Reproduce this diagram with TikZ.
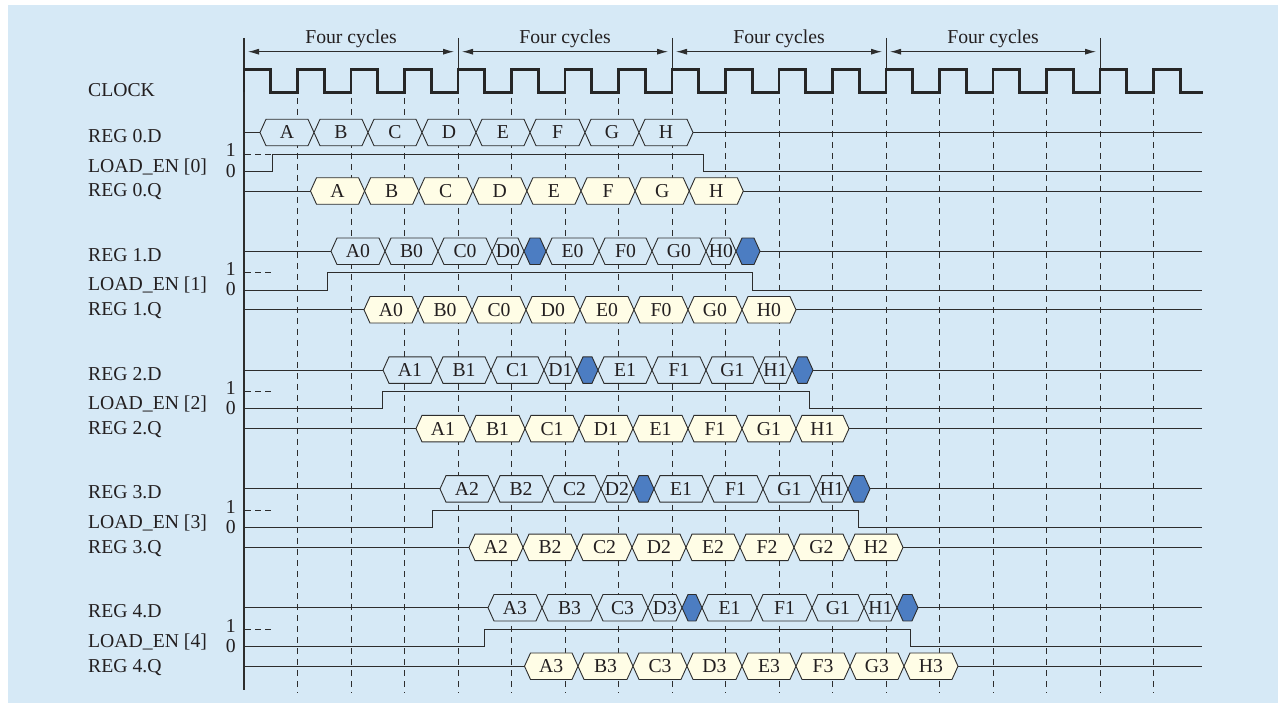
\documentclass[tikz,border=0pt]{standalone}
\usepackage{fontspec}
\setmainfont{Liberation Serif}
\usetikzlibrary{arrows.meta}
\definecolor{bgblue}{RGB}{214,233,246}
\definecolor{qyellow}{RGB}{255,253,230}
\definecolor{hexblue}{RGB}{76,125,194}
\definecolor{ink}{RGB}{45,45,45}
\definecolor{txt}{RGB}{35,31,32}
\newcounter{tdn}
\newcommand\tdhex[5]{%
  \stepcounter{tdn}%
  \draw[hexline,#4] (#1,#3) -- ({#1+6},{#3-13.25}) -- ({#2-6},{#3-13.25}) -- (#2,#3) -- ({#2-6},{#3+13.25}) -- ({#1+6},{#3+13.25}) -- cycle;
  \node[boxtext] (hx\arabic{tdn}) at ({(#1+#2)/2},{#3+6.5}) {#5};%
}
\newcommand\tdblue[3]{%
  \draw[hexline,fill=hexblue] (#1,#3) -- ({#1+6},{#3-13.25}) -- ({#2-6},{#3-13.25}) -- (#2,#3) -- ({#2-6},{#3+13.25}) -- ({#1+6},{#3+13.25}) -- cycle;%
}
\tikzset{
  sig/.style={draw=ink,line width=0.9pt},
  hexline/.style={draw=ink,line width=0.9pt},
  dbox/.style={fill=bgblue},
  qbox/.style={fill=qyellow},
  grid/.style={draw=ink,line width=0.9pt,dash pattern=on 6pt off 5pt},
  clk/.style={draw=black!85,line width=2.6pt},
  boxtext/.style={anchor=base,inner sep=0pt,text=txt,font=\fontsize{19.7pt}{22pt}\selectfont},
  lbl/.style={anchor=base west,inner sep=0pt,text=txt,font=\fontsize{19.7pt}{22pt}\selectfont},
  lvl/.style={anchor=base east,inner sep=0pt,text=txt,font=\fontsize{19.7pt}{22pt}\selectfont},
}
\begin{document}
\begin{tikzpicture}[x=1pt,y=-1pt]
\useasboundingbox (0,0) rectangle (1286,708);
\fill[white] (0,0) rectangle (1286,708);
\fill[bgblue] (8,5) rectangle (1278,703);

% four cycles
\foreach \k in {0,1,2,3} {
  \pgfmathsetmacro\xa{244+214*\k}
  \pgfmathsetmacro\xb{458+214*\k}
  \draw[ink,line width=0.9pt,{Latex[length=11pt,width=6pt]}-{Latex[length=11pt,width=6pt]}] ({\xa+4},51.7) -- ({\xb-4},51.7);
  \node[boxtext] (fc\k) at ({(\xa+\xb)/2},44) {Four cycles};
  \draw[sig] (\xb,38) -- (\xb,69.3);
}
\draw[draw=ink,line width=1.2pt] (244,38) -- (244,690);

% clock
\node[lbl] (clock) at (88,96.7) {CLOCK};
\draw[clk] (244,92.3) \foreach \i in {0,...,16} { -- ({244+53.5*\i},69.3) -- ({270.75+53.5*\i},69.3) -- ({270.75+53.5*\i},92.3) -- ({297.5+53.5*\i},92.3) } -- (1153.5,69.3) -- (1180.25,69.3) -- (1180.25,92.3) -- (1203,92.3);

% dashed grid
\foreach \i in {0,...,16} \draw[grid] ({297.5+53.5*\i},98) -- ({297.5+53.5*\i},693);

% ===== block 0 =====
\def\D{132.5}\def\H{154}\def\L{171.2}\def\Q{191}
\node[lbl] (r0d) at (88,{\D+10}) {REG 0.D};
\node[lbl] (le0) at (88,{\L+1}) {LOAD\_EN [0]};
\node[lbl] (r0q) at (88,{\Q+6}) {REG 0.Q};
\node[lvl] (one0) at (236,{\H+3}) {1};
\node[lvl] (zero0) at (236,{\L+6}) {0};
\draw[sig,dash pattern=on 6pt off 4pt] (245,\H) -- (272,\H);
\draw[sig] (244,\L) -- (272,\L) -- (272,\H) -- (703,\H) -- (703,\L) -- (1202,\L);
\draw[sig] (244,\D) -- (260,\D) (693,\D) -- (1202,\D);
\draw[sig] (244,\Q) -- (310.5,\Q) (743.3,\Q) -- (1202,\Q);
\foreach \a/\b/\t in {260/314/A,314/368/B,368/422/C,422/476/D,476/530/E,530/585/F,585/639/G,639/693/H} \tdhex{\a}{\b}{\D}{dbox}{\t};
\foreach \a/\b/\t in {310.5/364.6/A,364.6/418.7/B,418.7/472.8/C,472.8/526.9/D,526.9/581/E,581/635.1/F,635.1/689.2/G,689.2/743.3/H} \tdhex{\a}{\b}{\Q}{qbox}{\t};

% ===== block 1 =====
\def\D{251.3}\def\H{272.8}\def\L{290}\def\Q{309.8}
\node[lbl] (r1d) at (88,{\D+10}) {REG 1.D};
\node[lbl] (le1) at (88,{\L+1}) {LOAD\_EN [1]};
\node[lbl] (r1q) at (88,{\Q+6}) {REG 1.Q};
\node[lvl] (one1) at (236,{\H+3}) {1};
\node[lvl] (zero1) at (236,{\L+6}) {0};
\draw[sig,dash pattern=on 6pt off 4pt] (245,\H) -- (272,\H);
\draw[sig] (244,\L) -- (327.4,\L) -- (327.4,\H) -- (752.7,\H) -- (752.7,\L) -- (1202,\L);
\draw[sig] (244,\D) -- (331,\D) (760,\D) -- (1202,\D);
\draw[sig] (244,\Q) -- (364,\Q) (796,\Q) -- (1202,\Q);
\foreach \a/\b/\t in {331/385/A0,385/438/B0,438/492/C0,492/524/D0,546/599/E0,599/652/F0,652/706/G0,706/736/H0} \tdhex{\a}{\b}{\D}{dbox}{\t};
\tdblue{524}{546}{\D}\tdblue{736}{760}{\D}
\foreach \a/\b/\t in {364/418/A0,418/472/B0,472/526/C0,526/580/D0,580/634/E0,634/688/F0,688/742/G0,742/796/H0} \tdhex{\a}{\b}{\Q}{qbox}{\t};

% ===== block 2 =====
\def\D{370.1}\def\H{391.6}\def\L{408.8}\def\Q{428.6}
\node[lbl] (r2d) at (88,{\D+10}) {REG 2.D};
\node[lbl] (le2) at (88,{\L+1}) {LOAD\_EN [2]};
\node[lbl] (r2q) at (88,{\Q+6}) {REG 2.Q};
\node[lvl] (one2) at (236,{\H+3}) {1};
\node[lvl] (zero2) at (236,{\L+6}) {0};
\draw[sig,dash pattern=on 6pt off 4pt] (245,\H) -- (272,\H);
\draw[sig] (244,\L) -- (382.3,\L) -- (382.3,\H) -- (809,\H) -- (809,\L) -- (1202,\L);
\draw[sig] (244,\D) -- (383,\D) (813,\D) -- (1202,\D);
\draw[sig] (244,\Q) -- (416,\Q) (849,\Q) -- (1202,\Q);
\foreach \a/\b/\t in {383/437/A1,437/491/B1,491/544/C1,544/577/D1,598/652/E1,652/706/F1,706/759/G1,759/792/H1} \tdhex{\a}{\b}{\D}{dbox}{\t};
\tdblue{577}{598}{\D}\tdblue{792}{813}{\D}
\foreach \a/\b/\t in {416/470/A1,470/525/B1,525/579/C1,579/633/D1,633/688/E1,688/742/F1,742/796/G1,796/849/H1} \tdhex{\a}{\b}{\Q}{qbox}{\t};

% ===== block 3 =====
\def\D{488.9}\def\H{510.4}\def\L{527.6}\def\Q{547.4}
\node[lbl] (r3d) at (88,{\D+10}) {REG 3.D};
\node[lbl] (le3) at (88,{\L+1}) {LOAD\_EN [3]};
\node[lbl] (r3q) at (88,{\Q+6}) {REG 3.Q};
\node[lvl] (one3) at (236,{\H+3}) {1};
\node[lvl] (zero3) at (236,{\L+6}) {0};
\draw[sig,dash pattern=on 6pt off 4pt] (245,\H) -- (272,\H);
\draw[sig] (244,\L) -- (432.3,\L) -- (432.3,\H) -- (858.3,\H) -- (858.3,\L) -- (1202,\L);
\draw[sig] (244,\D) -- (440,\D) (870,\D) -- (1202,\D);
\draw[sig] (244,\Q) -- (469,\Q) (903,\Q) -- (1202,\Q);
\foreach \a/\b/\t in {440/494/A2,494/548/B2,548/601/C2,601/633/D2,654/708/E1,708/763/F1,763/816/G1,816/848/H1} \tdhex{\a}{\b}{\D}{dbox}{\t};
\tdblue{633}{654}{\D}\tdblue{848}{870}{\D}
\foreach \a/\b/\t in {469/523/A2,523/577/B2,577/632/C2,632/686/D2,686/740/E2,740/794/F2,794/849/G2,849/903/H2} \tdhex{\a}{\b}{\Q}{qbox}{\t};

% ===== block 4 =====
\def\D{607.7}\def\H{629.2}\def\L{646.4}\def\Q{666.2}
\node[lbl] (r4d) at (88,{\D+10}) {REG 4.D};
\node[lbl] (le4) at (88,{\L+1}) {LOAD\_EN [4]};
\node[lbl] (r4q) at (88,{\Q+6}) {REG 4.Q};
\node[lvl] (one4) at (236,{\H+3}) {1};
\node[lvl] (zero4) at (236,{\L+6}) {0};
\draw[sig,dash pattern=on 6pt off 4pt] (245,\H) -- (272,\H);
\draw[sig] (244,\L) -- (484.3,\L) -- (484.3,\H) -- (910.7,\H) -- (910.7,\L) -- (1202,\L);
\draw[sig] (244,\D) -- (488,\D) (918,\D) -- (1202,\D);
\draw[sig] (244,\Q) -- (524.5,\Q) (958,\Q) -- (1202,\Q);
\foreach \a/\b/\t in {488/542/A3,542/597/B3,597/648/C3,648/682/D3,702/757/E1,757/812/F1,812/864/G1,864/897/H1} \tdhex{\a}{\b}{\D}{dbox}{\t};
\tdblue{682}{702}{\D}\tdblue{897}{918}{\D}
\foreach \a/\b/\t in {524.5/578/A3,578/633/B3,633/687/C3,687/742/D3,742/796/E3,796/850/F3,850/904/G3,904/958/H3} \tdhex{\a}{\b}{\Q}{qbox}{\t};
\end{tikzpicture}
\end{document}
